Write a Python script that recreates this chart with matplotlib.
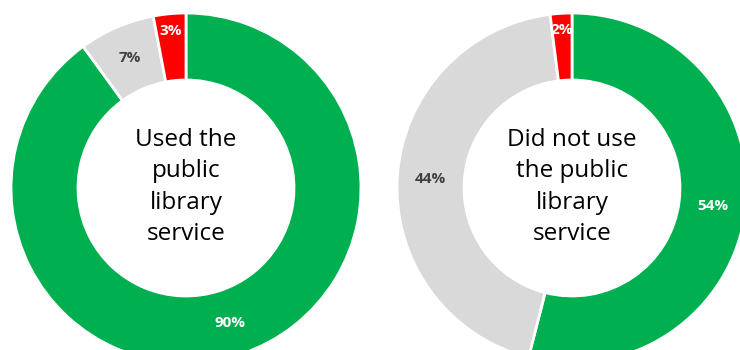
import matplotlib
matplotlib.use("Agg")
import matplotlib.pyplot as plt
import numpy as np

categories = ["Yes", "No", "Don't know"]
used_values = [90, 7, 3]
not_used_values = [54, 44, 2]
titles = ["Used the\npublic\nlibrary\nservice", "Did not use\nthe public\nlibrary\nservice"]

colors = ["#00B050", "#D9D9D9", "#FF0000"]
label_colors = ["white", "#404040", "white"]

W, H = 740, 350
fig = plt.figure(figsize=(7.4, 3.5), dpi=100)
ax = fig.add_axes([0, 0, 1, 1])
ax.set_xlim(0, W)
ax.set_ylim(0, H)
ax.set_aspect("equal")
ax.axis("off")

R = 175
ring = 67
centers = [(186, H - 188), (572, H - 188)]

for vals, title, (cx, cy) in zip([used_values, not_used_values], titles, centers):
    wedges, _ = ax.pie(vals, colors=colors, startangle=90, counterclock=False,
                       radius=R, center=(cx, cy),
                       wedgeprops=dict(width=ring, edgecolor="white", linewidth=2),
                       frame=True)
    total = sum(vals)
    cum = 0
    for v, lc in zip(vals, label_colors):
        mid = (cum + v / 2) / total * 2 * np.pi
        cum += v
        r = R - ring / 2 if v >= 5 else R - 17
        x = cx + r * np.sin(mid)
        y = cy + r * np.cos(mid)
        ax.text(x, y, f"{v}%", ha="center", va="center", color=lc,
                fontsize=11, fontweight="bold", family="Open Sans")
    ax.text(cx, cy + 1, title, ha="center", va="center", fontsize=17.5,
            family="Open Sans", linespacing=1.4, color="black")

ax.set_xlim(0, W)
ax.set_ylim(0, H)
ax.axis("off")
fig.savefig("out.png", dpi=100)
